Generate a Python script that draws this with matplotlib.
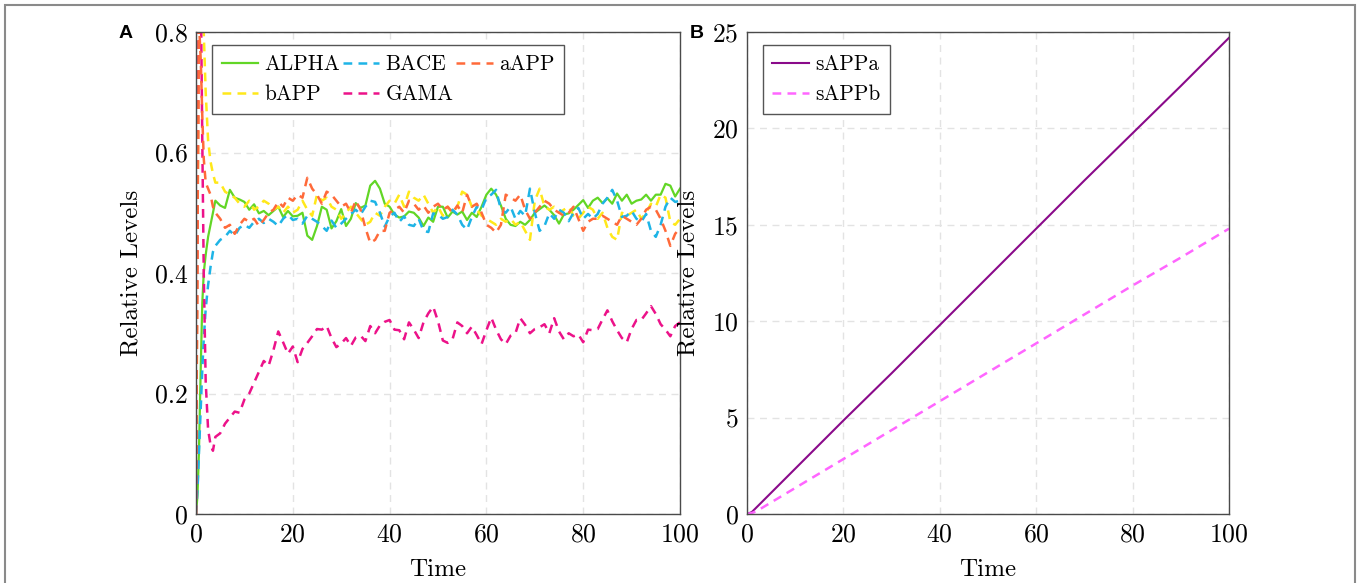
import numpy as np
import matplotlib
matplotlib.use('Agg')
import matplotlib.pyplot as plt  # noqa E402
from matplotlib.patches import Rectangle  # noqa E402

plt.rcParams['font.family'] = 'cmr10'
plt.rcParams['axes.formatter.use_mathtext'] = True

# time grid: fine early transient, then unit steps
t_early = [0.0, 0.3, 0.6, 1.0, 1.3, 1.6, 2.0, 2.5, 3.0, 3.5]
t_main = list(range(4, 101))
time = np.array(t_early + t_main, dtype=float)

alpha = [0.0, 0.03, 0.10, 0.25, 0.35, 0.40, 0.43, 0.46, 0.48, 0.50,
         0.520, 0.512, 0.508, 0.538, 0.525, 0.522, 0.518, 0.505, 0.514, 0.499,
         0.503, 0.496, 0.503, 0.510, 0.493, 0.503, 0.494, 0.495, 0.500, 0.462,
         0.455, 0.478, 0.510, 0.505, 0.474, 0.486, 0.506, 0.478, 0.490, 0.516,
         0.508, 0.512, 0.545, 0.553, 0.540, 0.515, 0.510, 0.497, 0.492, 0.494,
         0.502, 0.500, 0.492, 0.478, 0.492, 0.485, 0.510, 0.510, 0.492, 0.502,
         0.497, 0.502, 0.488, 0.500, 0.493, 0.510, 0.530, 0.540, 0.530, 0.512,
         0.490, 0.480, 0.478, 0.485, 0.480, 0.488, 0.500, 0.506, 0.512, 0.505,
         0.496, 0.482, 0.497, 0.499, 0.505, 0.513, 0.521, 0.508, 0.520, 0.525,
         0.516, 0.524, 0.515, 0.532, 0.520, 0.530, 0.515, 0.520, 0.522, 0.530,
         0.520, 0.530, 0.530, 0.548, 0.545, 0.527, 0.540]

bace = [0.0, 0.04, 0.10, 0.18, 0.24, 0.29, 0.34, 0.38, 0.41, 0.435,
        0.445, 0.455, 0.460, 0.470, 0.462, 0.475, 0.480, 0.475, 0.485, 0.490,
        0.483, 0.490, 0.485, 0.478, 0.490, 0.497, 0.488, 0.490, 0.482, 0.495,
        0.490, 0.485, 0.478, 0.470, 0.487, 0.475, 0.482, 0.490, 0.498, 0.505,
        0.497, 0.510, 0.520, 0.518, 0.500, 0.477, 0.494, 0.500, 0.485, 0.494,
        0.480, 0.478, 0.490, 0.470, 0.468, 0.499, 0.497, 0.490, 0.493, 0.505,
        0.497, 0.480, 0.472, 0.493, 0.510, 0.505, 0.525, 0.530, 0.538, 0.505,
        0.500, 0.510, 0.490, 0.503, 0.495, 0.540, 0.500, 0.470, 0.478, 0.499,
        0.490, 0.505, 0.500, 0.486, 0.500, 0.508, 0.490, 0.498, 0.490, 0.498,
        0.515, 0.525, 0.538, 0.520, 0.493, 0.495, 0.503, 0.490, 0.485, 0.498,
        0.470, 0.460, 0.480, 0.510, 0.525, 0.518, 0.520]

aapp = [0.0, 0.45, 0.82, 0.75, 0.66, 0.59, 0.55, 0.54, 0.53, 0.51,
        0.500, 0.490, 0.475, 0.480, 0.465, 0.480, 0.490, 0.485, 0.490, 0.478,
        0.488, 0.500, 0.505, 0.518, 0.510, 0.525, 0.520, 0.530, 0.525, 0.558,
        0.540, 0.530, 0.515, 0.535, 0.530, 0.520, 0.510, 0.515, 0.500, 0.520,
        0.505, 0.475, 0.450, 0.455, 0.470, 0.470, 0.500, 0.505, 0.510, 0.500,
        0.520, 0.515, 0.505, 0.512, 0.500, 0.510, 0.515, 0.505, 0.510, 0.500,
        0.512, 0.500, 0.530, 0.510, 0.515, 0.500, 0.480, 0.475, 0.467, 0.480,
        0.530, 0.525, 0.520, 0.530, 0.505, 0.490, 0.500, 0.510, 0.520, 0.515,
        0.505, 0.500, 0.495, 0.500, 0.510, 0.490, 0.470, 0.485, 0.490, 0.490,
        0.495, 0.490, 0.485, 0.480, 0.495, 0.490, 0.485, 0.480, 0.490, 0.505,
        0.510, 0.505, 0.490, 0.470, 0.445, 0.465, 0.475]

bapp = [0.0, 0.45, 0.85, 0.85, 0.84, 0.80, 0.70, 0.62, 0.585, 0.565,
        0.550, 0.550, 0.535, 0.530, 0.525, 0.515, 0.510, 0.520, 0.505, 0.510,
        0.520, 0.515, 0.505, 0.510, 0.500, 0.510, 0.500, 0.505, 0.520, 0.505,
        0.495, 0.530, 0.520, 0.525, 0.510, 0.505, 0.490, 0.500, 0.510, 0.500,
        0.490, 0.480, 0.485, 0.500, 0.495, 0.510, 0.520, 0.515, 0.530, 0.510,
        0.535, 0.525, 0.520, 0.530, 0.515, 0.500, 0.510, 0.495, 0.510, 0.500,
        0.510, 0.535, 0.530, 0.510, 0.505, 0.495, 0.490, 0.485, 0.480, 0.490,
        0.485, 0.490, 0.480, 0.485, 0.470, 0.455, 0.520, 0.540, 0.510, 0.505,
        0.510, 0.500, 0.505, 0.510, 0.495, 0.490, 0.500, 0.510, 0.505, 0.490,
        0.500, 0.475, 0.460, 0.455, 0.500, 0.495, 0.500, 0.505, 0.490, 0.500,
        0.515, 0.510, 0.530, 0.525, 0.485, 0.480, 0.490]

gama = [0.0, 0.50, 0.88, 0.86, 0.62, 0.40, 0.22, 0.14, 0.115, 0.105,
        0.128, 0.134, 0.150, 0.160, 0.170, 0.168, 0.190, 0.200, 0.218, 0.236,
        0.254, 0.246, 0.272, 0.303, 0.285, 0.266, 0.278, 0.252, 0.274, 0.284,
        0.295, 0.307, 0.306, 0.312, 0.292, 0.277, 0.283, 0.292, 0.279, 0.293,
        0.296, 0.287, 0.312, 0.300, 0.313, 0.319, 0.322, 0.306, 0.305, 0.290,
        0.318, 0.306, 0.292, 0.318, 0.333, 0.344, 0.320, 0.288, 0.284, 0.290,
        0.318, 0.312, 0.300, 0.311, 0.297, 0.282, 0.305, 0.326, 0.306, 0.290,
        0.282, 0.296, 0.300, 0.325, 0.314, 0.300, 0.307, 0.310, 0.315, 0.300,
        0.325, 0.303, 0.290, 0.300, 0.295, 0.298, 0.285, 0.306, 0.305, 0.307,
        0.323, 0.338, 0.320, 0.305, 0.292, 0.285, 0.307, 0.322, 0.322, 0.333,
        0.345, 0.332, 0.315, 0.306, 0.295, 0.312, 0.318]

# panel B
time_b = [0, 1, 2, 5, 10, 20, 30, 40, 50, 60, 70, 80, 90, 100]
sappa = [0.0, 0.1, 0.35, 1.1, 2.35, 4.85, 7.3, 9.8, 12.3, 14.8, 17.3, 19.75, 22.2, 24.7]
sappb = [0.0, 0.05, 0.15, 0.6, 1.35, 2.85, 4.35, 5.85, 7.35, 8.85, 10.35, 11.85, 13.3, 14.8]

xticks = [0, 20, 40, 60, 80, 100]
yticks_a = [0, 0.2, 0.4, 0.6, 0.8]
ytick_labels_a = ['0', '0.2', '0.4', '0.6', '0.8']
yticks_b = [0, 5, 10, 15, 20, 25]

fig = plt.figure(figsize=(13.6, 5.83), dpi=100)
fig.patches.append(Rectangle((5 / 1360, -0.02), 1350 / 1360, 1.02 - 5 / 583,
                             transform=fig.transFigure, fill=False,
                             edgecolor='#8a8a8a', linewidth=1.5))

axA = fig.add_axes([196 / 1360, 1 - 514 / 583, 484 / 1360, 482 / 583])
axB = fig.add_axes([747 / 1360, 1 - 514 / 583, 482 / 1360, 482 / 583])

dash = (3.5, 2.5)
axA.plot(time, alpha, color='#62d626', lw=1.6, label='ALPHA')
axA.plot(time, bapp, color='#ffe81a', lw=1.8, dashes=dash, label='bAPP')
axA.plot(time, bace, color='#1eb4e6', lw=1.8, dashes=dash, label='BACE')
axA.plot(time, gama, color='#ec1289', lw=1.8, dashes=dash, label='GAMA')
axA.plot(time, aapp, color='#ff6a3a', lw=1.8, dashes=dash, label='aAPP')

axB.plot(time_b, sappa, color='#8a0a8a', lw=1.5, label='sAPPa')
axB.plot(time_b, sappb, color='#ff66ff', lw=1.8, dashes=dash, label='sAPPb')

for ax in (axA, axB):
    ax.set_xlim(0, 100)
    ax.set_xticks(xticks)
    ax.grid(True, color='#e3e3e3', linestyle=(0, (5, 4)), linewidth=1.0)
    ax.set_axisbelow(True)
    ax.tick_params(direction='in', length=0, labelsize=18.5, pad=6)
    for s in ax.spines.values():
        s.set_color('#4a4a4a')
        s.set_linewidth(1.0)
    ax.set_xlabel('Time', fontsize=18, labelpad=9)
    ax.set_ylabel('Relative Levels', fontsize=18, labelpad=9)

axA.set_ylim(0, 0.8)
axA.set_yticks(yticks_a)
axA.set_yticklabels(ytick_labels_a)
axB.set_ylim(0, 25)
axB.set_yticks(yticks_b)

legend_kw = dict(loc='upper left', fontsize=15.3, frameon=True,
                 fancybox=False, edgecolor='#555555', framealpha=1,
                 handlelength=1.7, handletextpad=0.3, borderpad=0.45,
                 labelspacing=0.5, borderaxespad=0,
                 bbox_to_anchor=(0.033, 0.973))
# legend row order: ALPHA BACE aAPP / bAPP GAMA
legA = axA.legend(ncol=3, columnspacing=0.15, **legend_kw)
legA.get_frame().set_linewidth(1.0)
legB = axB.legend(**legend_kw)
legB.get_frame().set_linewidth(1.0)

fig.text(126 / 1360, 1 - 33 / 583, 'A', fontsize=14, fontweight='bold',
         family='Liberation Sans', va='center', ha='center')
fig.text(697 / 1360, 1 - 33 / 583, 'B', fontsize=14, fontweight='bold',
         family='Liberation Sans', va='center', ha='center')

fig.savefig('out.png', dpi=100)
plt.close(fig)
